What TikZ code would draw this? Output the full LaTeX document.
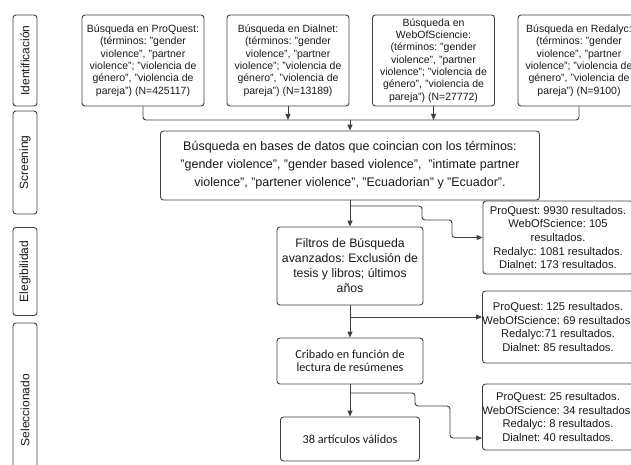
\documentclass[tikz,border=0pt]{standalone}
\usepackage{fontspec}
\setmainfont{Liberation Sans}
\newfontfamily\carlito{Carlito}
\usetikzlibrary{arrows.meta}
\frenchspacing

\begin{document}
\begin{tikzpicture}[x=1pt,y=-1pt]
\tikzstyle{every node}+=[inner sep=0pt]
\tikzstyle{box}=[draw=black!75, line width=0.9pt, rounded corners=3pt, align=center, text=black!90]
\tikzstyle{phase}=[box, rotate=90, minimum height=24pt, font=\fontsize{12}{14}\selectfont]
\tikzstyle{src}=[box, minimum width=122pt, minimum height=91pt, font=\fontsize{10.5}{12.3}\selectfont]
\tikzstyle{res}=[box, minimum width=150pt, font=\fontsize{11.2}{13.6}\selectfont]
\tikzstyle{link}=[draw=black!75, line width=0.9pt, rounded corners=3pt]
\tikzstyle{arr}=[link, -{Triangle[length=6pt,width=5pt]}]
\useasboundingbox (0,0) rectangle (631,465);
\clip (0,0) rectangle (631,465);
% fases
\node[phase, minimum width=91pt] (ident) at (25,60.5) {Identificación};
\node[phase, minimum width=103pt] (scrn) at (25,162.5) {Screening};
\node[phase, minimum width=88pt] (eleg) at (25,271.5) {Elegibilidad};
\node[phase, minimum width=174pt] (selec) at (25,410) {Seleccionado};
% busquedas
\node[src] (proquest) at (143,60.5) {Búsqueda en ProQuest:\\(términos: "gender\\violence", "partner\\violence"; "violencia de\\género", "violencia de\\pareja") (N=425117)};
\node[src] (dialnet) at (288,60.5) {Búsqueda en Dialnet:\\(términos: "gender\\violence", "partner\\violence"; "violencia de\\género", "violencia de\\pareja") (N=13189)};
\node[src] (wos) at (433.5,60.5) {Búsqueda en\\WebOfSciencie:\\(términos: "gender\\violence", "partner\\violence"; "violencia de\\género", "violencia de\\pareja") (N=27772)};
\node[src] (redalyc) at (579,60.5) {Búsqueda en Redalyc:\\(términos: "gender\\violence", "partner\\violence"; "violencia de\\género", "violencia de\\pareja") (N=9100)};
% pasos
\node[box, minimum width=379pt, minimum height=69pt, font=\fontsize{12.5}{18}\selectfont] (bases) at (350,165.5) {Búsqueda en bases de datos que coincian con los términos:\\"gender violence", "gender based violence",\ \ "intimate partner\\violence", "partener violence", "Ecuadorian" y "Ecuador".};
\node[box, minimum width=146pt, minimum height=78pt, font=\fontsize{12.3}{15}\selectfont] (filtros) at (350,266) {Filtros de Búsqueda\\avanzados: Exclusión de\\tesis y libros; últimos\\años};
\node[box, minimum width=146pt, minimum height=46pt, font=\carlito\fontsize{12.2}{13.3}\selectfont] (cribado) at (350,361) {Cribado en función de\\lectura de resúmenes};
\node[box, minimum width=139pt, minimum height=44pt, font=\carlito\fontsize{12.2}{14}\selectfont] (validos) at (350,439) {38 artículos válidos};
% resultados
\node[res, minimum height=73pt] (res1) at (558,237.5) {ProQuest: 9930 resultados.\\WebOfScience: 105\\resultados.\\Redalyc: 1081 resultados.\\Dialnet: 173 resultados.};
\node[res, minimum height=72pt] (res2) at (558,327) {ProQuest: 125 resultados.\\WebOfScience: 69 resultados.\\Redalyc:71 resultados.\\Dialnet: 85 resultados.};
\node[res, minimum height=66pt] (res3) at (558,417) {ProQuest: 25 resultados.\\WebOfScience: 34 resultados.\\Redalyc: 8 resultados.\\Dialnet: 40 resultados.};
% conectores
\coordinate (junta) at (350,120);
\draw[link] (proquest.south) |- (junta) -| (redalyc.south);
\draw[arr] (dialnet.south) -- (dialnet.south |- junta);
\draw[arr] (wos.south) -- (wos.south |- junta);
\draw[arr] (junta) -- (bases.north);
\draw[arr] (bases.south) -- (filtros.north);
\coordinate (rama1) at (350,206);
\draw[arr] (rama1) -- ++(72,0) |- ++(30,14) |- (res1.west);
\coordinate (rama2) at (350,317);
\draw[arr] (rama2) -- (rama2 -| res2.west);
\draw[arr] (filtros.south) -- (cribado.north);
\coordinate (rama3) at (350,393);
\draw[arr] (rama3) -- ++(65,0) |- ++(35,13) |- ([yshift=-21pt]res3.west);
\draw[arr] (cribado.south) -- (validos.north);
\end{tikzpicture}
\end{document}
